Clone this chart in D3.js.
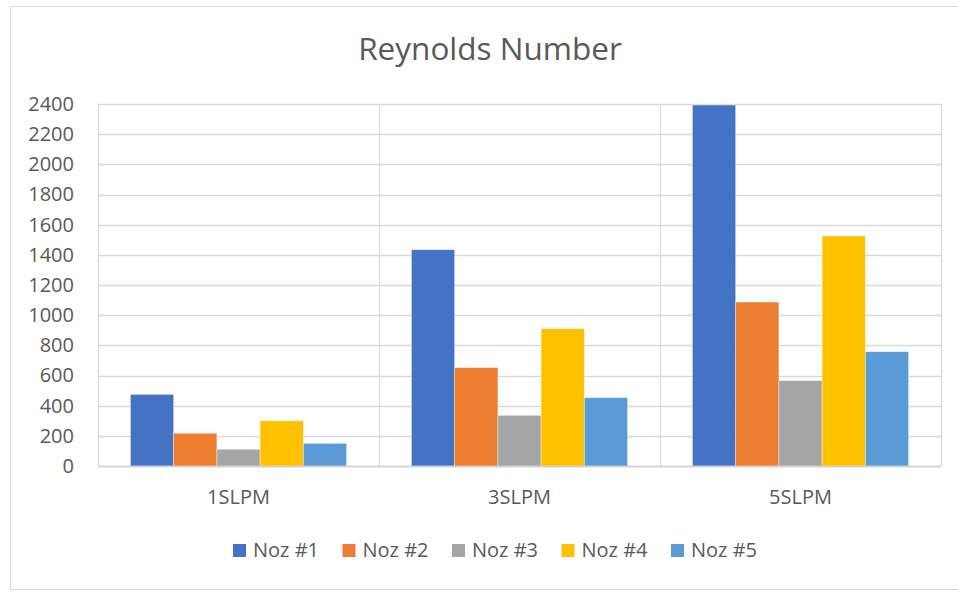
<!DOCTYPE html>
<html>
<head>
<meta charset="utf-8">
<script src="https://cdn.jsdelivr.net/npm/d3@7"></script>
<style>
  body { margin: 0; background: #fff; }
  text { font-family: "Open Sans", sans-serif; fill: #595959; }
</style>
</head>
<body>
<script>
const categories = ['1SLPM', '3SLPM', '5SLPM'];
const seriesNames = ['Noz #1', 'Noz #2', 'Noz #3', 'Noz #4', 'Noz #5'];
const noz1 = [475, 1434, 2393];
const noz2 = [217, 652, 1087];
const noz3 = [111, 336, 566];
const noz4 = [300, 910, 1525];
const noz5 = [150, 453, 758];
const yTicks = [0, 200, 400, 600, 800, 1000, 1200, 1400, 1600, 1800, 2000, 2200, 2400];
const colors = ['#4472C4', '#ED7D31', '#A5A5A5', '#FFC000', '#5B9BD5'];

const seriesValues = [noz1, noz2, noz3, noz4, noz5];

const width = 958;
const height = 592;
const plot = { left: 98, right: 941, top: 104, bottom: 466 };

const svg = d3.select('body').append('svg').attr('width', width).attr('height', height);

// chart frame
svg.append('rect')
    .attr('x', 10.5).attr('y', 6.5)
    .attr('width', width - 10).attr('height', 583)
    .attr('fill', '#fff').attr('stroke', '#d9d9d9').attr('stroke-width', 1);

svg.append('text')
    .attr('x', 490).attr('y', 60)
    .attr('text-anchor', 'middle')
    .style('font-size', '31.5px')
    .text('Reynolds Number');

const x0 = d3.scaleBand().domain(categories).range([plot.left, plot.right]);
const x1 = d3.scaleBand().domain(seriesNames).range([0, x0.bandwidth()]).paddingOuter(0.75);
const y = d3.scaleLinear().domain([0, 2400]).range([plot.bottom, plot.top]);

// horizontal gridlines
svg.append('g').selectAll('line')
    .data(yTicks)
    .enter().append('line')
    .attr('x1', plot.left).attr('x2', plot.right)
    .attr('y1', d => Math.round(y(d)) + 0.5).attr('y2', d => Math.round(y(d)) + 0.5)
    .attr('stroke', '#d9d9d9').attr('stroke-width', 1.3);

// vertical category dividers + plot frame sides
const vlines = categories.map(c => x0(c)).concat([plot.right]);
svg.append('g').selectAll('line')
    .data(vlines)
    .enter().append('line')
    .attr('x1', d => Math.round(d) + 0.5).attr('x2', d => Math.round(d) + 0.5)
    .attr('y1', plot.top).attr('y2', plot.bottom)
    .attr('stroke', '#d9d9d9').attr('stroke-width', 1.3);

// bars
const groups = svg.append('g').selectAll('g')
    .data(seriesNames)
    .enter().append('g')
    .attr('fill', (d, i) => colors[i]);

groups.selectAll('rect')
    .data((s, i) => categories.map((c, j) => ({ cat: c, series: s, value: seriesValues[i][j] })))
    .enter().append('rect')
    .attr('x', d => x0(d.cat) + x1(d.series))
    .attr('y', d => y(d.value))
    .attr('width', x1.bandwidth())
    .attr('height', d => y(0) - y(d.value))
    .attr('stroke', '#fff').attr('stroke-opacity', 0.5).attr('stroke-width', 0.75);

// baseline
svg.append('line')
    .attr('x1', plot.left).attr('x2', plot.right)
    .attr('y1', plot.bottom + 0.5).attr('y2', plot.bottom + 0.5)
    .attr('stroke', '#d0d0d0').attr('stroke-width', 1.5);

// y axis labels
const yAxis = d3.axisLeft(y).tickValues(yTicks).tickFormat(d3.format('d')).tickSize(0).tickPadding(24);
const yg = svg.append('g').attr('transform', `translate(${plot.left},0)`).call(yAxis);
yg.select('.domain').remove();
yg.selectAll('text').style('font-size', '20px').attr('fill', '#595959');

// x axis labels
const xAxis = d3.axisBottom(x0).tickSize(0).tickPadding(24);
const xg = svg.append('g').attr('transform', `translate(0,${plot.bottom})`).call(xAxis);
xg.select('.domain').remove();
xg.selectAll('text').style('font-size', '20px').attr('fill', '#595959');

// legend
const legend = svg.append('g').selectAll('g')
    .data(seriesNames)
    .enter().append('g')
    .attr('transform', (d, i) => `translate(${233 + i * 109.5},544)`);

legend.append('rect')
    .attr('width', 13).attr('height', 13)
    .attr('fill', (d, i) => colors[i]);

legend.append('text')
    .attr('x', 20).attr('y', 13)
    .style('font-size', '20px')
    .text(d => d);
</script>
</body>
</html>
